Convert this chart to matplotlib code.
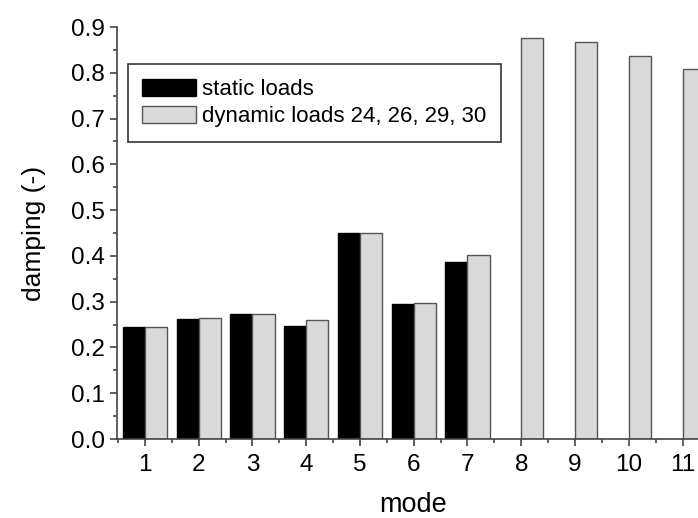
import numpy as np
import matplotlib.pyplot as plt
from matplotlib.ticker import MultipleLocator

plt.rcParams['font.family'] = ['Liberation Sans', 'DejaVu Sans']

# damping per mode
modes = [1, 2, 3, 4, 5, 6, 7, 8, 9, 10, 11]
static_modes = [1, 2, 3, 4, 5, 6, 7]
static_damping = [0.245, 0.262, 0.272, 0.247, 0.451, 0.295, 0.386]
dynamic_damping = [0.245, 0.265, 0.272, 0.260, 0.451, 0.297, 0.402,
                   0.877, 0.868, 0.837, 0.808]

W, H = 698, 518
fig = plt.figure(figsize=(W / 100, H / 100), dpi=100)
ax = fig.add_axes([117 / W, 79 / H, 592.4 / W, 412 / H])

bw = 0.41
ax.bar(np.array(static_modes) - bw / 2, static_damping, width=bw,
       color='black', edgecolor='black', linewidth=1, label='static loads')
ax.bar(np.array(modes) + bw / 2, dynamic_damping, width=bw,
       color='#d9d9d9', edgecolor='#555555', linewidth=1,
       label='dynamic loads 24, 26, 29, 30')

ax.set_xlim(0.48, 11.5)
ax.set_ylim(0, 0.9)
ax.set_xticks(modes)
ax.xaxis.set_minor_locator(MultipleLocator(0.5))
ax.yaxis.set_major_locator(MultipleLocator(0.1))
ax.yaxis.set_minor_locator(MultipleLocator(0.05))
ax.yaxis.set_major_formatter(plt.FormatStrFormatter('%.1f'))

for s in ['top', 'right']:
    ax.spines[s].set_visible(False)
for s in ['left', 'bottom']:
    ax.spines[s].set_color('#444444')
    ax.spines[s].set_linewidth(1.2)
ax.tick_params(which='major', direction='out', length=5, width=1.2,
               color='#444444', labelsize=17.5)
ax.tick_params(axis='x', which='major', pad=6)
ax.tick_params(axis='y', which='major', pad=4)
ax.tick_params(which='minor', direction='out', length=3, width=1.2,
               color='#444444')

ax.set_xlabel('mode', fontsize=19.5, labelpad=11)
ax.set_ylabel('damping (-)', fontsize=19, labelpad=18)

leg = ax.legend(loc='upper left', bbox_to_anchor=(0.0186, 0.910),
                borderaxespad=0, fontsize=16, fancybox=False,
                handlelength=2.4, handleheight=0.85, handletextpad=0.3,
                labelspacing=0.25, borderpad=0.65, framealpha=1)
leg.get_frame().set_edgecolor('#333333')
leg.get_frame().set_linewidth(1.2)

fig.savefig('out.png', dpi=100)
